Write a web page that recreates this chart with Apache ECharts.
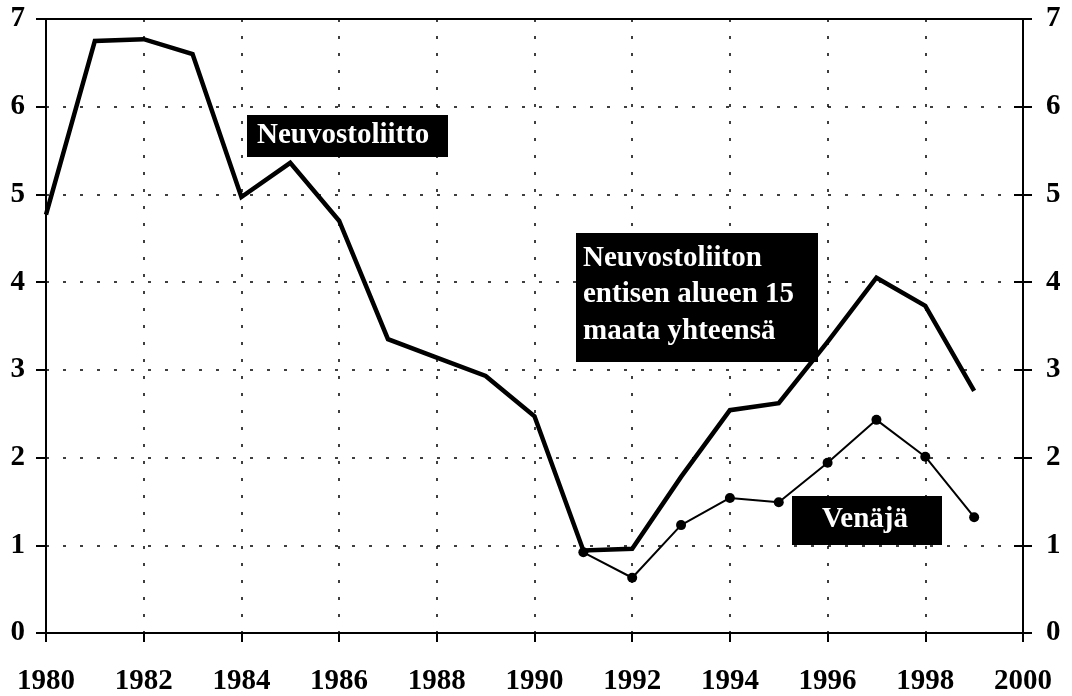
<!DOCTYPE html>
<html>
<head>
<meta charset="utf-8">
<script src="https://cdn.jsdelivr.net/npm/echarts@6/dist/echarts.min.js"></script>
<style>
html,body{margin:0;padding:0;background:#fff;}
#chart{width:1072px;height:696px;}
</style>
</head>
<body>
<div id="chart"></div>
<script>
// ---- data ----
const years = [1980,1981,1982,1983,1984,1985,1986,1987,1988,1989,1990,1991,1992,1993,1994,1995,1996,1997,1998,1999];
const totalValues = [4.77,6.75,6.77,6.60,4.97,5.36,4.70,3.35,3.14,2.93,2.47,0.94,0.96,1.78,2.54,2.62,3.32,4.05,3.73,2.76];
const russiaYears = [1991,1992,1993,1994,1995,1996,1997,1998,1999];
const russiaValues = [0.92,0.63,1.23,1.54,1.49,1.94,2.43,2.01,1.32];
const xTicks = {min:1980, max:2000, step:2};
const yTicks = {min:0, max:7, step:1};
const labelTotalLines = ['Neuvostoliiton', 'entisen alueen 15', 'maata yhteensä'];
const labelUSSR = 'Neuvostoliitto';
const labelRussia = 'Venäjä';

const FONT = '"Liberation Serif","Times New Roman",serif';
const chart = echarts.init(document.getElementById('chart'), null, {renderer:'canvas'});

const axisLabelStyle = {color:'#000', fontFamily:FONT, fontWeight:'bold', fontSize:29};
const dotted = {color:'#000', width:1.5, type:[3,14]};

const option = {
  animation:false,
  backgroundColor:'#fff',
  grid:{left:46, right:49, top:19, bottom:60, containLabel:false},
  xAxis:[
    {type:'value', min:xTicks.min, max:xTicks.max, interval:xTicks.step, position:'bottom',
     axisLine:{show:true, onZero:false, lineStyle:{color:'#000', width:2}},
     axisTick:{show:true, inside:false, length:9, lineStyle:{color:'#000', width:2}},
     axisLabel:Object.assign({margin:34, formatter:v=>String(v)}, axisLabelStyle),
     splitLine:{show:true, lineStyle:dotted}},
    {type:'value', min:xTicks.min, max:xTicks.max, interval:xTicks.step, position:'top',
     axisLine:{show:true, onZero:false, lineStyle:{color:'#000', width:2}},
     axisTick:{show:false}, axisLabel:{show:false}, splitLine:{show:false}}
  ],
  yAxis:[
    {type:'value', min:yTicks.min, max:yTicks.max, interval:yTicks.step, position:'left',
     axisLine:{show:true, onZero:false, lineStyle:{color:'#000', width:2}},
     axisTick:{show:true, inside:false, length:10, lineStyle:{color:'#000', width:2}},
     axisLabel:Object.assign({margin:21}, axisLabelStyle),
     splitLine:{show:true, lineStyle:dotted}},
    {type:'value', min:yTicks.min, max:yTicks.max, interval:yTicks.step, position:'right',
     axisLine:{show:true, onZero:false, lineStyle:{color:'#000', width:2}},
     axisTick:{show:true, inside:false, length:9, lineStyle:{color:'#000', width:2}},
     axisLabel:Object.assign({margin:23}, axisLabelStyle),
     splitLine:{show:false}},
    {type:'value', min:yTicks.min, max:yTicks.max, interval:yTicks.step, position:'right',
     axisLine:{show:false},
     axisTick:{show:true, inside:true, length:9, lineStyle:{color:'#000', width:2}},
     axisLabel:{show:false}, splitLine:{show:false}}
  ],
  series:[
    {type:'line', name:'total', xAxisIndex:0, yAxisIndex:0,
     data:years.map((y,i)=>[y, totalValues[i]]),
     showSymbol:false, symbol:'none',
     lineStyle:{color:'#000', width:4.5, join:'miter'}, z:3},
    {type:'line', name:'russia', xAxisIndex:0, yAxisIndex:0,
     data:russiaYears.map((y,i)=>[y, russiaValues[i]]),
     symbol:'circle', symbolSize:10, showSymbol:true,
     itemStyle:{color:'#000'},
     lineStyle:{color:'#000', width:2}, z:4}
  ],
  graphic:[
    {type:'rect', left:247, top:115, shape:{width:201, height:42}, style:{fill:'#000'}, z:10},
    {type:'text', left:257, top:121, style:{text:labelUSSR, fill:'#fff', font:'bold 29px '+FONT}, z:11},
    {type:'rect', left:576, top:233, shape:{width:242, height:129}, style:{fill:'#000'}, z:10},
    {type:'text', left:583, top:240, style:{text:labelTotalLines.join('\n'), fill:'#fff', font:'bold 29px '+FONT, lineHeight:36.5}, z:11},
    {type:'rect', left:792, top:496, shape:{width:150, height:49}, style:{fill:'#000'}, z:10},
    {type:'text', left:822, top:505, style:{text:labelRussia, fill:'#fff', font:'bold 29px '+FONT}, z:11}
  ]
};
chart.setOption(option);
</script>
</body>
</html>
